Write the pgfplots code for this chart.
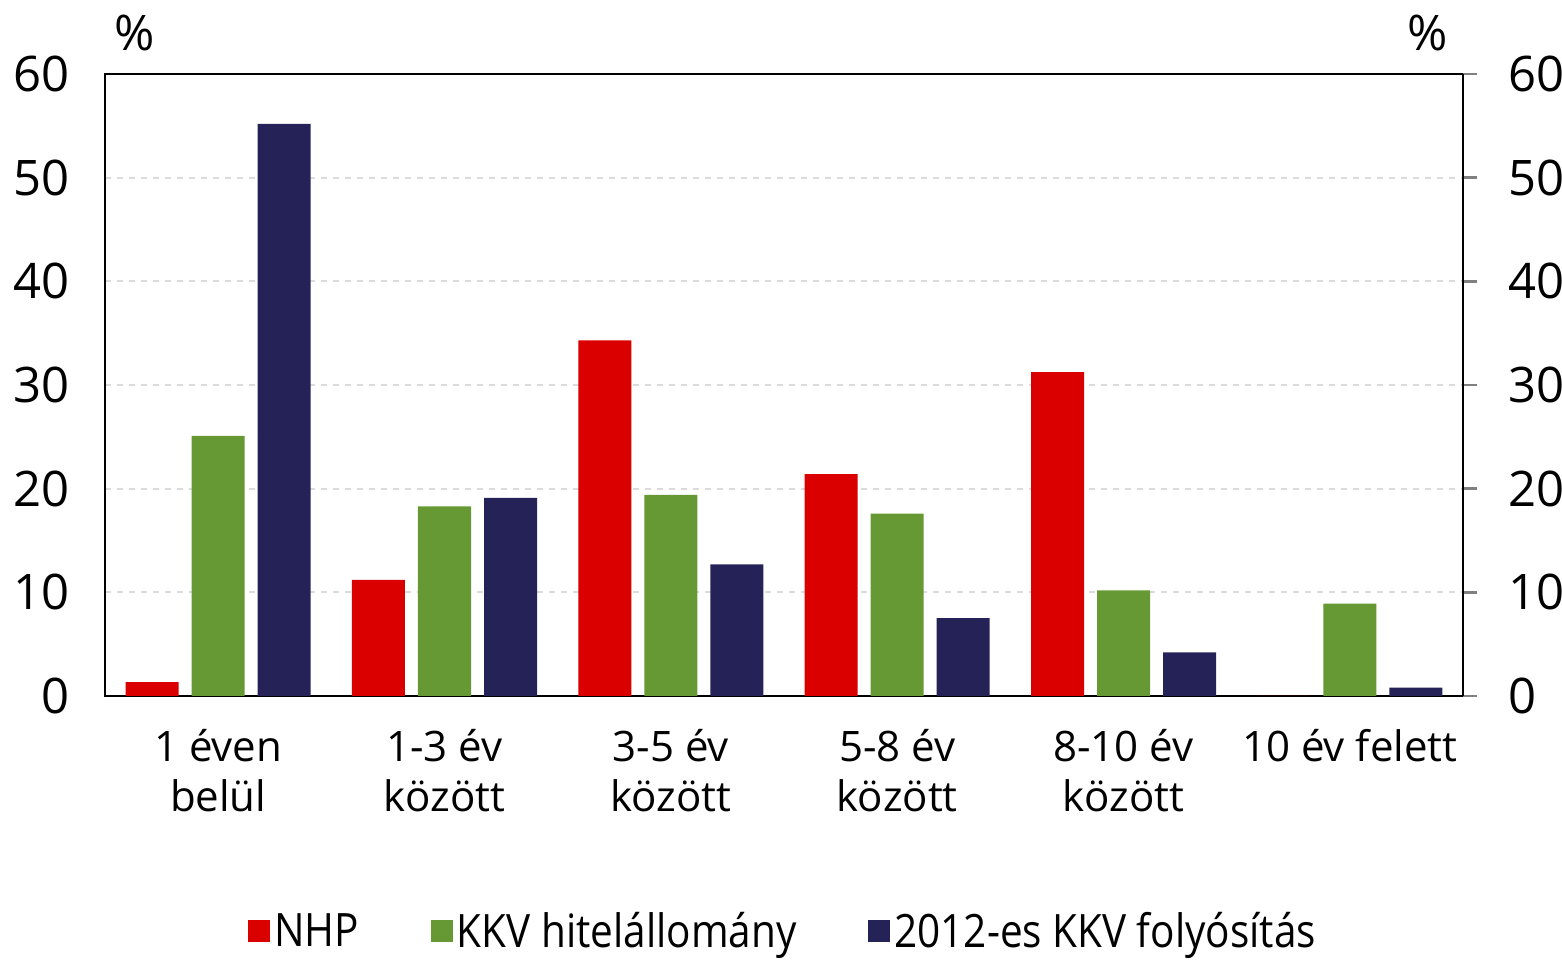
\documentclass[border=0pt]{standalone}
\usepackage{fontspec}
\setmainfont{Open Sans}
\newfontfamily\legfont[FakeStretch=0.88]{Open Sans}
\usepackage{pgfplots}
\usepackage{pgfplotstable}
\pgfplotsset{compat=1.18}
\definecolor{cred}{RGB}{218,0,0}
\definecolor{cgreen}{RGB}{102,153,51}
\definecolor{cnavy}{RGB}{37,34,87}
\pgfplotstableread{
x nhp kkv fol
0 1.35 25.1 55.2
1 11.2 18.3 19.1
2 34.3 19.4 12.7
3 21.4 17.6 7.5
4 31.25 10.2 4.2
5 0 8.9 0.8
}\data
\begin{document}
\begin{tikzpicture}
\path[use as bounding box] (-52.5pt,-133pt) rectangle (728.5pt,348pt);
\begin{axis}[
  at={(0,0)}, anchor=south west,
  scale only axis, width=679pt, height=311pt,
  xmin=-0.5, xmax=5.5, ymin=0, ymax=60,
  clip=false,
  ybar=6.5pt, bar width=26.5pt,
  xtick={0,...,5},
  xticklabels={{1 éven\\belül},{1-3 év\\között},{3-5 év\\között},{5-8 év\\között},{8-10 év\\között},{10 év felett}},
  xticklabel style={align=center, font=\fontsize{21}{25}\selectfont, yshift=-9pt},
  ytick={0,10,...,60},
  yticklabel style={font=\fontsize{24.5}{28}\selectfont, xshift=-14pt},
  /pgf/number format/assume math mode=true,
  tick style={draw=none},
  ymajorgrids, grid style={dashed, dash pattern=on 3pt off 3pt, line width=0.9pt, color=black!14},
  axis line style={line width=1.2pt},
  legend style={at={(0.5,-0.378)}, anchor=center, draw=none, legend columns=3,
    font=\legfont\fontsize{23}{26}\selectfont,
    /tikz/every even column/.append style={column sep=34pt},
    legend cell align=left},
  legend image code/.code={\fill[#1] (0pt,-5.5pt) rectangle (11pt,5.5pt);},
]
\addplot[fill=cred, draw=none] table[x=x, y=nhp] {\data};
\addplot[fill=cgreen, draw=none] table[x=x, y=kkv] {\data};
\addplot[fill=cnavy, draw=none] table[x=x, y=fol] {\data};
\legend{NHP, KKV hitelállomány, 2012-es KKV folyósítás}
\node[font=\fontsize{24.5}{28}\selectfont] at (rel axis cs:0.022,1) [yshift=20.5pt] {\%};
\node[font=\fontsize{24.5}{28}\selectfont] at (rel axis cs:0.974,1) [yshift=20.5pt] {\%};
\end{axis}
\begin{axis}[
  at={(0,0)}, anchor=south west,
  scale only axis, width=679pt, height=311pt,
  xmin=-0.5, xmax=5.5, ymin=0, ymax=60,
  axis x line=none, axis y line*=right,
  ytick={0,10,...,60},
  tick align=outside, major tick length=7pt,
  ytick style={line width=1.2pt},
  yticklabel style={font=\fontsize{24.5}{28}\selectfont, xshift=12pt},
  /pgf/number format/assume math mode=true,
  axis line style={line width=1.2pt},
]
\addplot[draw=none] coordinates {(0,0)};
\end{axis}
\end{tikzpicture}
\end{document}
